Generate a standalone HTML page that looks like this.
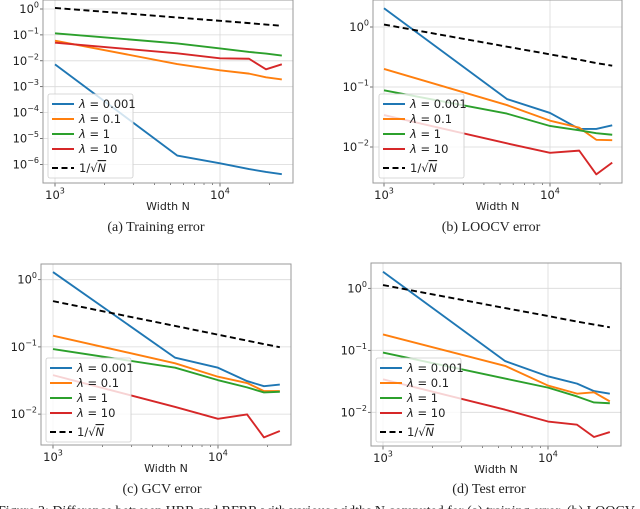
<!DOCTYPE html>
<html><head><meta charset="utf-8">
<style>
html,body{margin:0;padding:0;background:#fff;width:640px;height:509px;overflow:hidden}
svg{display:block}
text{font-family:"DejaVu Sans","Liberation Sans",sans-serif}
.cap{font-family:"Liberation Serif",serif;font-size:14px}
</style></head><body>
<svg id="fig" width="640" height="509" viewBox="0 0 640 509" xmlns="http://www.w3.org/2000/svg"></svg>
<script>
// Shared x categories (width N)
const widthN = [1000, 5500, 10000, 15000, 19000, 23700];
const seriesNames = ["λ = 0.001", "λ = 0.1", "λ = 1", "λ = 10", "1/√N"];
// (a) Training error
const trainBlue = [0.0073, 2.2e-6, 1.1e-6, 6.6e-7, 5.1e-7, 4.2e-7];
const trainOrange = [0.06, 0.0075, 0.0043, 0.0032, 0.0023, 0.0019];
const trainGreen = [0.115, 0.047, 0.03, 0.022, 0.019, 0.016];
const trainRed = [0.05, 0.0195, 0.0125, 0.012, 0.0047, 0.0073];
const trainRef = [1.1, 0.47, 0.35, 0.285, 0.25, 0.226];
const trainYTicks = [0, -1, -2, -3, -4, -5, -6];
// (b) LOOCV error
const loocvBlue = [2.05, 0.063, 0.037, 0.02, 0.02, 0.023];
const loocvOrange = [0.2, 0.05, 0.0275, 0.021, 0.0132, 0.013];
const loocvGreen = [0.088, 0.036, 0.0224, 0.019, 0.017, 0.016];
const loocvRed = [0.034, 0.0115, 0.008, 0.0087, 0.0035, 0.0055];
const loocvRef = [1.1, 0.47, 0.35, 0.285, 0.25, 0.227];
const loocvYTicks = [0, -1, -2];
// (c) GCV error
const gcvBlue = [1.3, 0.069, 0.049, 0.031, 0.026, 0.0275];
const gcvOrange = [0.147, 0.057, 0.036, 0.029, 0.022, 0.022];
const gcvGreen = [0.093, 0.049, 0.032, 0.025, 0.021, 0.0215];
const gcvRed = [0.038, 0.0128, 0.0085, 0.0099, 0.0045, 0.0056];
const gcvRef = [0.48, 0.205, 0.152, 0.124, 0.11, 0.099];
const gcvYTicks = [0, -1, -2];
// (d) Test error
const testBlue = [1.85, 0.067, 0.038, 0.029, 0.022, 0.02];
const testOrange = [0.18, 0.056, 0.027, 0.02, 0.021, 0.015];
const testGreen = [0.092, 0.035, 0.025, 0.018, 0.0144, 0.014];
const testRed = [0.034, 0.011, 0.0071, 0.0063, 0.004, 0.0048];
const testRef = [1.13, 0.48, 0.357, 0.29, 0.26, 0.235];
const testYTicks = [0, -1, -2];

const NS = "http://www.w3.org/2000/svg";
const svg = document.getElementById("fig");
const colors = ["#1f77b4", "#ff7f0e", "#2ca02c", "#d62728", "#000"];
function mk(tag, attrs, parent) {
  const e = document.createElementNS(NS, tag);
  for (const k in attrs) e.setAttribute(k, attrs[k]);
  (parent || svg).appendChild(e);
  return e;
}

function panel(cfg) {
  const g = mk("g", {});
  
  
  const xs = v => cfg.x3 + (Math.log10(v) - 3) * cfg.xdec;
  const ys = v => cfg.y0 - Math.log10(v) * cfg.ydec;
  [1000, 10000].forEach(v => {
    const l = mk("line", {x1: xs(v), x2: xs(v), y1: cfg.top, y2: cfg.bottom, stroke: "#d9d9d9", "stroke-width": 0.8}, g);
    
    
  });
  cfg.yticks.forEach(e => {
    const y = ys(Math.pow(10, e));
    const l = mk("line", {x1: cfg.left, x2: cfg.right, y1: y, y2: y, stroke: "#d9d9d9", "stroke-width": 0.8}, g);
    
    
    mk("line", {x1: cfg.left - 3, x2: cfg.left, y1: y, y2: y, stroke: "#333", "stroke-width": 0.7}, g);
    const t = mk("text", {x: cfg.left - 4, y: y + 4, "text-anchor": "end", "font-size": 11.5, fill: "#222"}, g);
    
    
    t.textContent = "10";
    const s = mk("tspan", {dy: -5.5, "font-size": 8}, t);
    s.textContent = (e < 0 ? "−" : "") + Math.abs(e);
  });
  [2000,3000,4000,5000,6000,7000,8000,9000,20000].forEach(v => {
    mk("line", {x1: xs(v), x2: xs(v), y1: cfg.bottom, y2: cfg.bottom + 2, stroke: "#333", "stroke-width": 0.6}, g);
  });
  [[1000, 3], [10000, 4]].forEach(([v, e]) => {
    mk("line", {x1: xs(v), x2: xs(v), y1: cfg.bottom, y2: cfg.bottom + 3.5, stroke: "#333", "stroke-width": 0.7}, g);
    const t = mk("text", {x: xs(v), y: cfg.bottom + 16, "text-anchor": "middle", "font-size": 11.5, fill: "#222"}, g);
    
    
    t.textContent = "10";
    const s = mk("tspan", {dy: -5.5, "font-size": 8}, t);
    s.textContent = e;
  });
  cfg.series.forEach((arr, i) => {
    const d = arr.map((v, j) => (j ? "L" : "M") + xs(widthN[j]).toFixed(2) + "," + ys(v).toFixed(2)).join(" ");
    const p = mk("path", {d: d, fill: "none", stroke: colors[i], "stroke-width": 1.9, "stroke-linejoin": "round"}, g);
    if (i === 4) p.setAttribute("stroke-dasharray", "6,3.5");
    
    
  });
  const f = mk("rect", {x: cfg.left, y: cfg.top, width: cfg.right - cfg.left, height: cfg.bottom - cfg.top, fill: "none", stroke: "#999", "stroke-width": 1}, g);
  
  
  const L = cfg.legend;
  const lg = mk("g", {}, g);
  
  
  mk("rect", {x: L[0], y: L[1], width: 85, height: 84, rx: 2, fill: "rgba(255,255,255,0.8)", stroke: "#ccc", "stroke-width": 0.8}, lg);
  const rows = [10, 25, 40, 55, 74];
  seriesNames.forEach((nm, i) => {
    const y = L[1] + rows[i];
    const ln = mk("line", {x1: L[0] + 4, x2: L[0] + 26, y1: y, y2: y, stroke: colors[i], "stroke-width": 1.9}, lg);
    if (i === 4) ln.setAttribute("stroke-dasharray", "6,3.5");
    
    
    const t = mk("text", {x: L[0] + 31, y: y + 4, "font-size": 11.5, fill: "#222"}, lg);
    
    
    if (i < 4) {
      const a = mk("tspan", {"font-style": "italic"}, t); a.textContent = "λ";
      const b = mk("tspan", {}, t); b.textContent = nm.slice(1);
    } else {
      const a = mk("tspan", {}, t); a.textContent = "1/√";
      const b = mk("tspan", {"font-style": "italic", "text-decoration": "overline"}, t); b.textContent = "N";
    }
  });
  const xl = mk("text", {x: (cfg.left + cfg.right) / 2, y: cfg.bottom + 27, "text-anchor": "middle", "font-size": 11, fill: "#222"}, g);
  
  
  xl.textContent = "Width N";
  const cp = mk("text", {x: cfg.cap[0], y: cfg.cap[1], "text-anchor": "middle", class: "cap", fill: "#222"}, g);
  
  
  cp.textContent = cfg.capText;
}

panel({name: "training-error-chart", left: 43, right: 293, top: 0, bottom: 183, x3: 55, xdec: 165, y0: 9, ydec: 25.9,
  yticks: trainYTicks, series: [trainBlue, trainOrange, trainGreen, trainRed, trainRef],
  legend: [48, 94], cap: [156, 231], capText: "(a) Training error"});
panel({name: "loocv-error-chart", left: 373, right: 622, top: 0, bottom: 183, x3: 384, xdec: 166, y0: 27, ydec: 60,
  yticks: loocvYTicks, series: [loocvBlue, loocvOrange, loocvGreen, loocvRed, loocvRef],
  legend: [379, 94], cap: [491, 231], capText: "(b) LOOCV error"});
panel({name: "gcv-error-chart", left: 41, right: 291, top: 264, bottom: 445, x3: 53, xdec: 165, y0: 279.7, ydec: 67.2,
  yticks: gcvYTicks, series: [gcvBlue, gcvOrange, gcvGreen, gcvRed, gcvRef],
  legend: [46, 358], cap: [162, 493], capText: "(c) GCV error"});
panel({name: "test-error-chart", left: 371, right: 621, top: 263, bottom: 446, x3: 383, xdec: 165, y0: 288.3, ydec: 62,
  yticks: testYTicks, series: [testBlue, testOrange, testGreen, testRed, testRef],
  legend: [376, 358], cap: [489, 493], capText: "(d) Test error"});

const fc = mk("text", {x: -2, y: 515, class: "cap", fill: "#222"});


fc.textContent = "Figure 2: Difference between HRR and RFRR with various widths N computed for (a) training error, (b) LOOCV";
</script>
</body></html>
